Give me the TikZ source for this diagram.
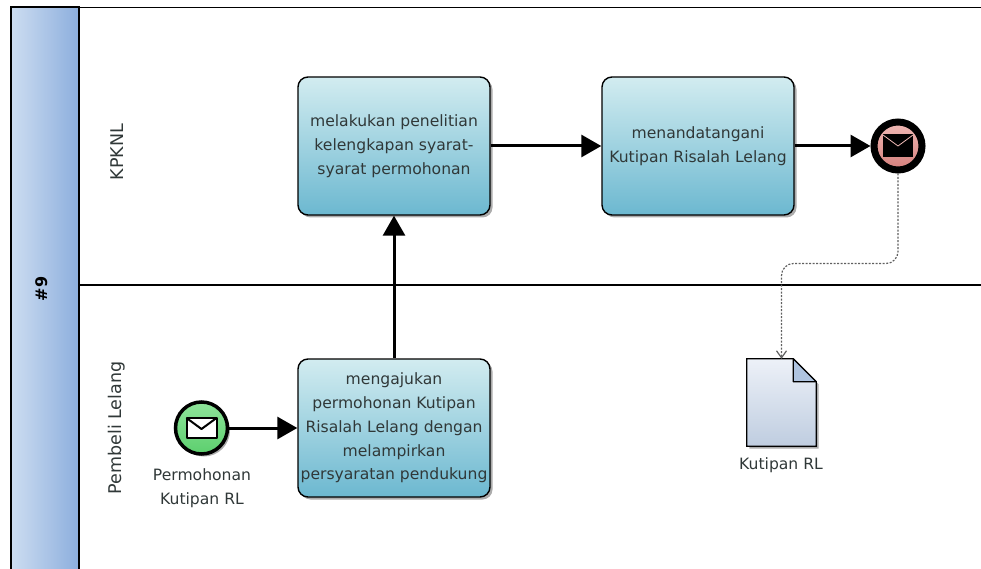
\documentclass[tikz,border=0pt]{standalone}
\usepackage{fontspec}
\setmainfont{DejaVu Sans}
\usetikzlibrary{arrows.meta,shadows,calc}
\definecolor{tasktop}{HTML}{D2ECF0}
\definecolor{taskbot}{HTML}{6CB8D0}
\definecolor{pooll}{HTML}{CDDDF1}
\definecolor{poolr}{HTML}{8CAEDD}
\definecolor{textgray}{HTML}{303838}
\definecolor{doctop}{HTML}{EDF1F8}
\definecolor{docbot}{HTML}{BFCDE0}
\definecolor{docfold}{HTML}{AFC4E0}
\definecolor{starttop}{HTML}{8FE49A}
\definecolor{startbot}{HTML}{5CCF6E}
\definecolor{endtop}{HTML}{EFB9B5}
\definecolor{endbot}{HTML}{D57F7C}
\tikzstyle{every picture}+=[>={Triangle[length=20pt,width=22pt]}]
\tikzstyle{every picture}+=[x=1pt,y=-1pt]
\tikzstyle{every picture}+=[node distance=304pt]
\tikzstyle{every shadow}=[opacity=.65,shadow xshift=2.5pt,shadow yshift=-2.5pt]
\tikzstyle{task}+=[draw, line width=1.4pt, rounded corners=10pt]
\tikzstyle{task}+=[top color=tasktop, bottom color=taskbot]
\tikzstyle{task}+=[minimum width=192pt, minimum height=138pt, inner sep=0pt, align=center]
\tikzstyle{task}+=[font=\fontsize{15.6}{23.8}\selectfont, text=textgray]
\tikzstyle{task}+=[drop shadow]
\tikzstyle{flow}+=[->, line width=3pt]
\tikzstyle{assoc}+=[-{Straight Barb[length=7pt,width=10pt]}, line width=1.2pt, gray!75!black, dash pattern=on 2pt off 1.5pt, rounded corners=12pt]
\tikzstyle{lane}+=[rotate=90, font=\fontsize{17.5}{20}\selectfont, text=textgray]
\tikzstyle{label}+=[align=center, font=\fontsize{15.6}{24}\selectfont, text=textgray]
\tikzstyle{mailstart}+=[circle, draw, line width=3.5pt, minimum size=52pt, inner sep=0pt]
\tikzstyle{mailstart}+=[top color=starttop, bottom color=startbot, drop shadow]
\tikzstyle{mailend}+=[circle, draw, line width=7pt, minimum size=48pt, inner sep=0pt]
\tikzstyle{mailend}+=[top color=endtop, bottom color=endbot, drop shadow]
\begin{document}
\begin{tikzpicture}
\useasboundingbox (0,0) rectangle (981,569);

% pool
\node[draw, line width=1.2pt, left color=pooll, right color=poolr, minimum width=68pt, minimum height=564pt, inner sep=0pt] (pool) at (45,289) {};
\node[rotate=90, font=\fontsize{16}{20}\selectfont\bfseries] (nomor) at (42,289) {\#9};
\coordinate (kanan) at (981,7.5);
\coordinate (tepi) at (981,285);
\draw[line width=1.2pt] (pool.east |- kanan) -- (kanan);
\draw[line width=1.2pt] (pool.east |- tepi) -- (tepi);
\node[lane] (kpknl) at (117,152) {KPKNL};
\node[lane] (pembeli) at (117,428) {Pembeli Lelang};

% tasks
\node[task] (teliti) at (394,146) {melakukan penelitian\\kelengkapan syarat-\\syarat permohonan};
\node[task] (tanda) [right of=teliti] {menandatangani\\Kutipan Risalah Lelang};
\node[task] (aju) at (394,428) {mengajukan\\permohonan Kutipan\\Risalah Lelang dengan\\melampirkan\\persyaratan pendukung};

% events
\node[mailstart] (mulai) at (201.5,428) {};
\node[mailend] (akhir) at (898,146) {};
\node[label] (lblmulai) at (202,488) {Permohonan\\Kutipan RL};
\draw[line width=2pt, fill=white, line join=round] ($(mulai)+(-15,-10)$) rectangle ($(mulai)+(15,10)$);
\draw[line width=2pt, line join=round] ($(mulai)+(-15,-10)$) -- ($(mulai)+(0,1)$) -- ($(mulai)+(15,-10)$);
\fill ($(akhir)+(-15,-12)$) rectangle ($(akhir)+(15,11)$);
\draw[endtop, line width=.8pt] ($(akhir)+(-15,-11)$) -- ($(akhir)+(0,0)$) -- ($(akhir)+(15,-11)$);

% document
\node[minimum width=69pt, minimum height=87pt, inner sep=0pt] (kutipan) at (781.5,402.5) {};
\node[label] (lblkutipan) at (781,465) {Kutipan RL};
\draw[line width=1.2pt, top color=doctop, bottom color=docbot, drop shadow]
  (kutipan.north west) -- ($(kutipan.north east)+(-23,0)$) -- ($(kutipan.north east)+(0,23)$) -- (kutipan.south east) -- (kutipan.south west) -- cycle;
\draw[line width=1.2pt, fill=docfold, line join=round]
  ($(kutipan.north east)+(-23,0)$) -- ($(kutipan.north east)+(-23,23)$) -- ($(kutipan.north east)+(0,23)$) -- cycle;

\path
  (mulai) edge[flow] (aju)
  (aju) edge[flow] (teliti)
  (teliti) edge[flow] (tanda)
  (tanda) edge[flow] (akhir)
  ;
\draw[assoc] (akhir.south) -- ++(0,90) -| (kutipan.north);
\end{tikzpicture}
\end{document}
